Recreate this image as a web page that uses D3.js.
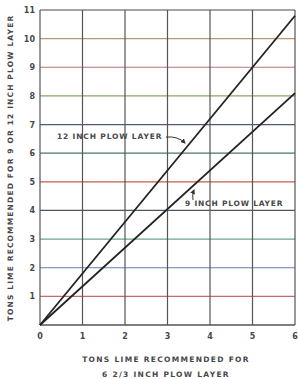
<!DOCTYPE html>
<html><head><meta charset="utf-8">
<script src="https://cdn.jsdelivr.net/npm/d3@7"></script>
<style>
html,body{margin:0;padding:0;background:#fff;}
svg{display:block;}
text{font-family:"DejaVu Sans",sans-serif;fill:#484848;font-weight:600;}
</style></head><body>
<svg id="c" width="298" height="379"></svg>
<script>
const xTicks = [0,1,2,3,4,5,6];
const yTicks = [1,2,3,4,5,6,7,8,9,10,11];
const gridColors = ["#c86a6a","#5f7fb8","#6fa58a","#4e5563","#c85a50","#4a7474","#4f5a76","#86a866","#b77474","#b99474","#4a4a4a"];
const tons623 = [0, 6];
const tons12 = [0, 10.8];
const tons9 = [0, 8.1];
const labels = ["12 INCH PLOW LAYER", "9 INCH PLOW LAYER"];

const svg = d3.select("#c");
const x = d3.scaleLinear().domain([0,6]).range([40,295]);
const y = d3.scaleLinear().domain([0,11]).range([325,10]);

svg.append("g").selectAll("line").data(yTicks).join("line")
  .attr("x1", x(0)).attr("x2", x(6))
  .attr("y1", d=>y(d)).attr("y2", d=>y(d))
  .attr("stroke", (d,i)=>gridColors[i]).attr("stroke-width",1.2);
svg.append("g").selectAll("line").data(xTicks).join("line")
  .attr("x1", d=>x(d)).attr("x2", d=>x(d))
  .attr("y1", y(0)).attr("y2", y(11))
  .attr("stroke", "#555").attr("stroke-width",1.2);
svg.append("line").attr("x1",x(0)).attr("x2",x(6)).attr("y1",y(0)).attr("y2",y(0))
  .attr("stroke","#555").attr("stroke-width",1.3);

svg.append("g").selectAll("text").data(yTicks).join("text")
  .attr("x", 35).attr("y", d=>y(d)+3).attr("text-anchor","end")
  .attr("font-size",8).text(d=>d);
svg.append("g").selectAll("text").data(xTicks).join("text")
  .attr("x", d=>x(d)).attr("y", 339).attr("text-anchor","middle")
  .attr("font-size",8).text(d=>d);

const line = d3.line().x(d=>x(d[0])).y(d=>y(d[1]));
[tons12, tons9].forEach(s=>{
  svg.append("path").datum(tons623.map((v,i)=>[v,s[i]]))
    .attr("d", line).attr("fill","none").attr("stroke","#222").attr("stroke-width",1.8);
});

svg.append("text").attr("x",57).attr("y",139).attr("font-size",7.5)
  .attr("letter-spacing",0.85).text(labels[0]);
svg.append("text").attr("x",185).attr("y",206).attr("font-size",7.5)
  .attr("letter-spacing",0.8).text(labels[1]);

svg.append("defs").append("marker").attr("id","ah").attr("viewBox","0 0 10 10")
  .attr("refX",8).attr("refY",5).attr("markerWidth",5).attr("markerHeight",5)
  .attr("orient","auto").append("path").attr("d","M0,0L10,5L0,10z").attr("fill","#333");
svg.append("path").attr("d","M166,137 Q178,136 185,143").attr("fill","none")
  .attr("stroke","#333").attr("stroke-width",1).attr("marker-end","url(#ah)");
svg.append("path").attr("d","M193,200 Q192,195 194,190").attr("fill","none")
  .attr("stroke","#333").attr("stroke-width",1).attr("marker-end","url(#ah)");

svg.append("text").attr("transform","translate(13,168) rotate(-90)")
  .attr("text-anchor","middle").attr("font-size",7.5).attr("letter-spacing",1.15)
  .text("TONS LIME RECOMMENDED FOR 9 OR 12 INCH PLOW LAYER");
svg.append("text").attr("x",166).attr("y",362).attr("text-anchor","middle")
  .attr("font-size",7.5).attr("letter-spacing",1.3).text("TONS LIME RECOMMENDED FOR");
svg.append("text").attr("x",166).attr("y",377).attr("text-anchor","middle")
  .attr("font-size",7.5).attr("letter-spacing",1.3).text("6 2/3 INCH PLOW LAYER");
</script></body></html>
